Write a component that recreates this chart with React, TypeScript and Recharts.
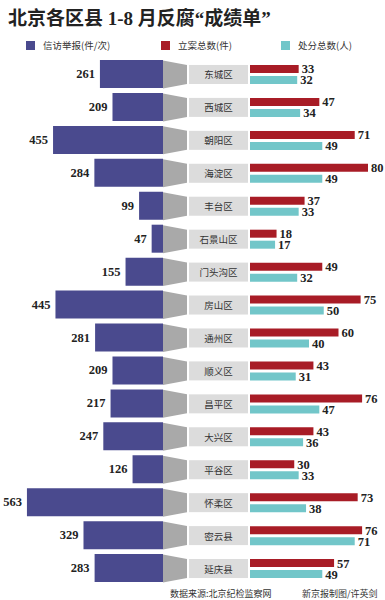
import React from 'react';
import { BarChart, Bar, XAxis, YAxis, LabelList } from 'recharts';

// 各区县 (top to bottom)
const districts = [
  '东城区', '西城区', '朝阳区', '海淀区', '丰台区', '石景山区', '门头沟区', '房山区',
  '通州区', '顺义区', '昌平区', '大兴区', '平谷区', '怀柔区', '密云县', '延庆县',
];
// 信访举报(件/次)
const reports = [261, 209, 455, 284, 99, 47, 155, 445, 281, 209, 217, 247, 126, 563, 329, 283];
// 立案总数(件)
const cases = [33, 47, 71, 80, 37, 18, 49, 75, 60, 43, 76, 43, 30, 73, 76, 57];
// 处分总数(人)
const punished = [32, 34, 49, 49, 33, 17, 32, 50, 40, 31, 47, 36, 33, 38, 71, 49];

const legendItems = [
  { label: '信访举报(件/次)', color: '#4a4a8e' },
  { label: '立案总数(件)', color: '#a81c26' },
  { label: '处分总数(人)', color: '#72c6c9' },
];

const data = districts.map((name, i) => ({
  name,
  reports: reports[i],
  cases: cases[i],
  punished: punished[i],
}));

const BLUE = '#4a4a8e';
const RED = '#a81c26';
const CYAN = '#72c6c9';
const NUM_FONT = '"Liberation Serif", "Times New Roman", serif';
const CJK_FONT = '"Noto Sans CJK SC", sans-serif';

const CHART_H = 600;
const MARGIN = { top: 58, bottom: 15 };

// value label on the outer (left) end of the blue bars
const ReportLabel = (props: any) => {
  const vb = props.viewBox ?? props;
  const left = Math.min(vb.x, vb.x + vb.width);
  return (
    <text
      x={left - 5}
      y={vb.y + vb.height / 2}
      textAnchor="end"
      dominantBaseline="central"
      fontFamily={NUM_FONT}
      fontWeight="bold"
      fontSize={12.5}
      fill="#222"
    >
      {props.value}
    </text>
  );
};

// grey connector + district name box
const DistrictTick = (props: any) => {
  const { y, payload } = props;
  return (
    <g>
      <polygon
        points={`0,${y - 14} 24,${y - 9.5} 24,${y + 9.5} 0,${y + 14}`}
        fill="#a9a9a9"
      />
      <rect x={26} y={y - 9.5} width={59} height={19} fill="#dcdcdc" />
      <text
        x={55.5}
        y={y}
        textAnchor="middle"
        dominantBaseline="central"
        fontSize={9.5}
        fill="#333"
        fontFamily={CJK_FONT}
      >
        {payload.value}
      </text>
    </g>
  );
};

const rightLabelStyle = {
  fill: '#222',
  fontFamily: NUM_FONT,
  fontWeight: 'bold',
  fontSize: 12.5,
};

export default function App() {
  return (
    <div
      style={{
        position: 'absolute',
        left: 0,
        top: 0,
        width: 385,
        height: 600,
        background: '#fff',
        overflow: 'hidden',
      }}
    >
      <div
        style={{
          position: 'absolute',
          left: 8,
          top: 3,
          fontFamily: `${NUM_FONT.split(',')[0]}, ${CJK_FONT}`,
          fontWeight: 'bold',
          fontSize: 19,
          color: '#222',
          whiteSpace: 'nowrap',
        }}
      >
        北京各区县 1-8 月反腐“成绩单”
      </div>

      {legendItems.map((item, i) => (
        <div
          key={item.label}
          style={{
            position: 'absolute',
            left: [26, 161, 281][i],
            top: 38,
            display: 'flex',
            alignItems: 'center',
            fontFamily: CJK_FONT,
            fontSize: 9.5,
            color: '#333',
            whiteSpace: 'nowrap',
          }}
        >
          <span style={{ width: 9, height: 9, background: item.color, marginRight: 8 }} />
          {item.label}
        </div>
      ))}

      {/* left: 信访举报 */}
      <div style={{ position: 'absolute', left: 0, top: 0 }}>
        <BarChart
          width={163}
          height={CHART_H}
          data={data}
          layout="vertical"
          margin={{ top: MARGIN.top, bottom: MARGIN.bottom, left: 18, right: 0 }}
        >
          <XAxis type="number" domain={[0, 600]} reversed hide />
          <YAxis type="category" dataKey="name" hide />
          <Bar dataKey="reports" fill={BLUE} barSize={28} isAnimationActive={false}>
            <LabelList dataKey="reports" content={ReportLabel} />
          </Bar>
        </BarChart>
      </div>

      {/* right: 立案 / 处分 */}
      <div style={{ position: 'absolute', left: 163, top: 0 }}>
        <BarChart
          width={222}
          height={CHART_H}
          data={data}
          layout="vertical"
          barGap={3}
          margin={{ top: MARGIN.top, bottom: MARGIN.bottom, left: 0, right: 17 }}
        >
          <XAxis type="number" domain={[0, 80]} hide />
          <YAxis
            type="category"
            dataKey="name"
            width={87}
            axisLine={false}
            tickLine={false}
            tick={DistrictTick}
            interval={0}
          />
          <Bar dataKey="cases" fill={RED} barSize={8} isAnimationActive={false}>
            <LabelList dataKey="cases" position="right" offset={3} style={rightLabelStyle} />
          </Bar>
          <Bar dataKey="punished" fill={CYAN} barSize={8} isAnimationActive={false}>
            <LabelList dataKey="punished" position="right" offset={3} style={rightLabelStyle} />
          </Bar>
        </BarChart>
      </div>

      <div
        style={{
          position: 'absolute',
          left: 170,
          top: 587,
          fontFamily: CJK_FONT,
          fontSize: 9,
          color: '#333',
          whiteSpace: 'nowrap',
        }}
      >
        数据来源:北京纪检监察网
      </div>
      <div
        style={{
          position: 'absolute',
          left: 302,
          top: 587,
          fontFamily: CJK_FONT,
          fontSize: 9,
          color: '#333',
          whiteSpace: 'nowrap',
        }}
      >
        新京报制图/许英剑
      </div>
    </div>
  );
}
